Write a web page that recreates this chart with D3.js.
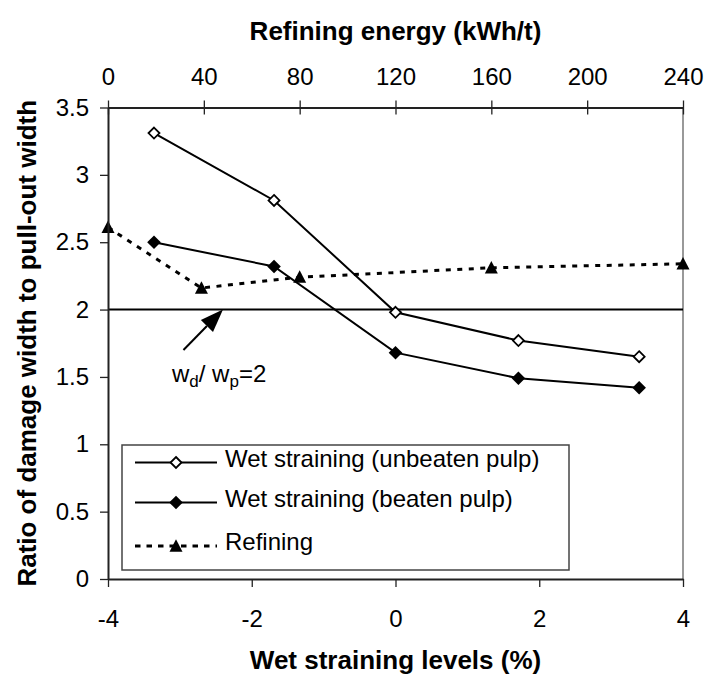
<!DOCTYPE html>
<html>
<head>
<meta charset="utf-8">
<script src="https://cdnjs.cloudflare.com/ajax/libs/d3/7.8.5/d3.min.js"></script>
<style>
body { margin: 0; background: #fff; }
text { font-family: "Liberation Sans", Arial, sans-serif; }
</style>
</head>
<body>
<div id="chart"></div>
<script>
// values
var strainLevels = [-3.36, -1.69, 0, 1.71, 3.39];
var unbeatenRatio = [3.31, 2.81, 1.98, 1.77, 1.65];
var beatenRatio = [2.50, 2.32, 1.68, 1.49, 1.42];
var refiningEnergy = [0, 39, 80, 160, 240];
var refiningRatio = [2.61, 2.16, 2.24, 2.31, 2.34];

var strainTicks = [-4, -2, 0, 2, 4];
var energyTicks = [0, 40, 80, 120, 160, 200, 240];
var ratioTicks = [0, 0.5, 1, 1.5, 2, 2.5, 3, 3.5];
var limitRatio = 2; // wd/wp = 2
var legendLabels = ["Wet straining (unbeaten pulp)", "Wet straining (beaten pulp)", "Refining"];

var width = 709, height = 678;
var margin = {top: 107.5, right: 26, bottom: 99, left: 108};

var x = d3.scaleLinear().domain([-4, 4]).range([margin.left, width - margin.right]);
var xTop = d3.scaleLinear().domain([0, 240]).range([margin.left, width - margin.right]);
var y = d3.scaleLinear().domain([0, 3.5]).range([height - margin.bottom, margin.top]);

var svg = d3.select("#chart").append("svg")
    .attr("width", width)
    .attr("height", height)
    .style("display", "block");

// marker shapes
function diamond(r) {
    return "M0," + (-r) + "L" + r + ",0L0," + r + "L" + (-r) + ",0Z";
}
function triangle(w, h) {
    return "M0," + (-h * 0.55) + "L" + w + "," + (h * 0.45) + "L" + (-w) + "," + (h * 0.45) + "Z";
}

// right edge of plot area (gray)
svg.append("line")
    .attr("x1", x(4)).attr("x2", x(4))
    .attr("y1", y(3.5)).attr("y2", y(0))
    .attr("stroke", "#999")
    .attr("stroke-width", 2);

// wd/wp = 2 line
svg.append("line")
    .attr("x1", x(-4)).attr("x2", x(4))
    .attr("y1", y(limitRatio)).attr("y2", y(limitRatio))
    .attr("stroke", "#000")
    .attr("stroke-width", 2);

var unbeaten = strainLevels.map(function(s, i) { return [s, unbeatenRatio[i]]; });
var beaten = strainLevels.map(function(s, i) { return [s, beatenRatio[i]]; });
var refining = refiningEnergy.map(function(e, i) { return [e, refiningRatio[i]]; });

var strainLine = d3.line()
    .x(function(d) { return x(d[0]); })
    .y(function(d) { return y(d[1]); });
var energyLine = d3.line()
    .x(function(d) { return xTop(d[0]); })
    .y(function(d) { return y(d[1]); });

svg.append("path")
    .datum(refining)
    .attr("d", energyLine)
    .attr("fill", "none")
    .attr("stroke", "#000")
    .attr("stroke-width", 3)
    .attr("stroke-dasharray", "5,6.5");

svg.append("path")
    .datum(unbeaten)
    .attr("d", strainLine)
    .attr("fill", "none")
    .attr("stroke", "#000")
    .attr("stroke-width", 2);

svg.append("path")
    .datum(beaten)
    .attr("d", strainLine)
    .attr("fill", "none")
    .attr("stroke", "#000")
    .attr("stroke-width", 2);

svg.append("g").selectAll("path")
    .data(unbeaten)
    .enter().append("path")
    .attr("transform", function(d) { return "translate(" + x(d[0]) + "," + y(d[1]) + ")"; })
    .attr("d", diamond(5.5))
    .attr("fill", "#fff")
    .attr("stroke", "#000")
    .attr("stroke-width", 1.8);

svg.append("g").selectAll("path")
    .data(beaten)
    .enter().append("path")
    .attr("transform", function(d) { return "translate(" + x(d[0]) + "," + y(d[1]) + ")"; })
    .attr("d", diamond(6.8))
    .attr("fill", "#000");

svg.append("g").selectAll("path")
    .data(refining)
    .enter().append("path")
    .attr("transform", function(d) { return "translate(" + xTop(d[0]) + "," + y(d[1]) + ")"; })
    .attr("d", triangle(6.5, 12.5))
    .attr("fill", "#000");

// axes
var yAxis = svg.append("g")
    .attr("transform", "translate(" + margin.left + ",0)")
    .call(d3.axisLeft(y).tickValues(ratioTicks).tickSize(8).tickSizeOuter(0).tickPadding(11).tickFormat(String));

var xAxis = svg.append("g")
    .attr("transform", "translate(0," + y(0) + ")")
    .call(d3.axisBottom(x).tickValues(strainTicks).tickSize(8).tickSizeOuter(0).tickPadding(23).tickFormat(String));

var topAxis = svg.append("g")
    .attr("transform", "translate(0," + y(3.5) + ")")
    .call(d3.axisTop(xTop).tickValues(energyTicks).tickSize(7).tickSizeOuter(0).tickPadding(16).tickFormat(String));
topAxis.selectAll(".tick line").attr("y1", 7);

[yAxis, xAxis, topAxis].forEach(function(g) {
    g.attr("font-family", "Liberation Sans, Arial, sans-serif").attr("font-size", 24);
    g.select(".domain").attr("stroke", "#222").attr("stroke-width", 2);
    g.selectAll(".tick line").attr("stroke", "#222").attr("stroke-width", 1.3);
    g.selectAll(".tick text").attr("fill", "#000");
});

// axis titles
svg.append("text")
    .attr("x", (x.range()[0] + x.range()[1]) / 2)
    .attr("y", 40)
    .attr("text-anchor", "middle")
    .attr("font-weight", "bold")
    .attr("font-size", 26)
    .text("Refining energy (kWh/t)");

svg.append("text")
    .attr("x", (x.range()[0] + x.range()[1]) / 2)
    .attr("y", 669)
    .attr("text-anchor", "middle")
    .attr("font-weight", "bold")
    .attr("font-size", 26)
    .text("Wet straining levels (%)");

svg.append("text")
    .attr("transform", "translate(36," + (y(0) + y(3.5)) / 2 + ") rotate(-90)")
    .attr("text-anchor", "middle")
    .attr("font-weight", "bold")
    .attr("font-size", 26)
    .text("Ratio of damage width to pull-out width");

// arrow pointing at the wd/wp = 2 line
var tail = [x(-2.95), y(1.70)], tip = [x(-2.40), y(limitRatio)];
var ang = Math.atan2(tip[1] - tail[1], tip[0] - tail[0]);
var headLen = 23, headW = 8.5;
var base = [tip[0] - headLen * Math.cos(ang), tip[1] - headLen * Math.sin(ang)];
svg.append("line")
    .attr("x1", tail[0]).attr("y1", tail[1])
    .attr("x2", base[0]).attr("y2", base[1])
    .attr("stroke", "#000")
    .attr("stroke-width", 2);
svg.append("path")
    .attr("d", "M" + tip[0] + "," + tip[1] +
        "L" + (base[0] + headW * Math.sin(ang)) + "," + (base[1] - headW * Math.cos(ang)) +
        "L" + (base[0] - headW * Math.sin(ang)) + "," + (base[1] + headW * Math.cos(ang)) + "Z")
    .attr("fill", "#000");

var note = svg.append("text")
    .attr("x", x(-3.11))
    .attr("y", y(1.465))
    .attr("font-size", 24);
note.append("tspan").text("w");
note.append("tspan").attr("font-size", 17).attr("dy", 5).text("d");
note.append("tspan").attr("dy", -5).text("/ w");
note.append("tspan").attr("font-size", 17).attr("dy", 5).text("p");
note.append("tspan").attr("dy", -5).text("=2");

// legend
var legend = svg.append("g");
legend.append("rect")
    .attr("x", 122).attr("y", 445)
    .attr("width", 447).attr("height", 125)
    .attr("fill", "#fff")
    .attr("stroke", "#444")
    .attr("stroke-width", 1.5);

var rowY = [462.5, 502.5, 546];
legendLabels.forEach(function(label, i) {
    var row = legend.append("g").attr("transform", "translate(0," + rowY[i] + ")");
    row.append("line")
        .attr("x1", 135).attr("x2", 217)
        .attr("stroke", "#000")
        .attr("stroke-width", i == 2 ? 3 : 2)
        .attr("stroke-dasharray", i == 2 ? "5.5,6" : null);
    row.append("path")
        .attr("transform", "translate(176,0)")
        .attr("d", i == 0 ? diamond(5.5) : i == 1 ? diamond(6.8) : triangle(6.5, 12.5))
        .attr("fill", i == 0 ? "#fff" : "#000")
        .attr("stroke", i == 0 ? "#000" : "none")
        .attr("stroke-width", 1.8);
    row.append("text")
        .attr("x", 225)
        .attr("y", 4)
        .attr("font-size", 24)
        .text(label);
});
</script>
</body>
</html>
